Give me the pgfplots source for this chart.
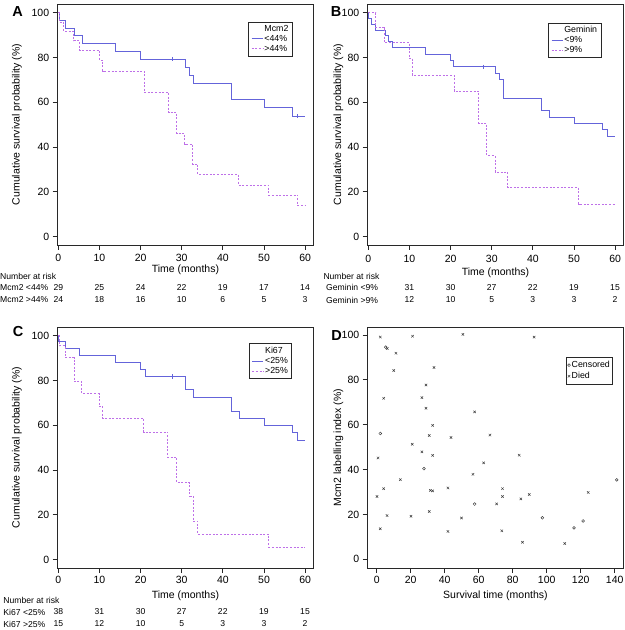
\documentclass[border=0pt]{standalone}
\usepackage{fontspec}
\setmainfont{Liberation Sans}
\usepackage{pgfplots}
\pgfplotsset{compat=1.18}

\definecolor{lowc}{RGB}{100,100,218}
\definecolor{highc}{RGB}{190,112,232}
\definecolor{frame}{RGB}{40,40,40}
\definecolor{ptc}{RGB}{60,60,60}

\newcommand{\lab}{\fontsize{10.5bp}{12bp}\selectfont}
\newcommand{\risk}{\fontsize{8.6bp}{10bp}\selectfont}
\newcommand{\leg}{\fontsize{8.8bp}{10bp}\selectfont}

\pgfplotsset{
  panel/.style={
    scale only axis, width=255.5bp, height=241bp,
    tick align=outside, xtick pos=left, ytick pos=left,
    major tick length=5bp,
    axis line style={frame, line width=0.9bp},
    tick style={frame, line width=0.9bp},
    tick label style={font=\lab},
    label style={font=\lab},
    /pgf/number format/assume math mode=true,
    legend cell align=left,
  },
  km/.style={
    panel,
    xmin=-0.15, xmax=61.95, ymin=-3.7, ymax=103.9,
    xtick={0,10,...,60}, ytick={0,20,...,100},
    ylabel={Cumulative survival probability (\%)},
    legend style={anchor=north east, draw=frame, line width=0.6bp,
      font=\leg, inner xsep=2.5bp, inner ysep=2bp, row sep=-0.3bp,
      nodes={inner sep=1.3bp}},
    legend image code/.code={\draw[#1] (0bp,0bp) -- (11bp,0bp);},
  },
  lo/.style={lowc, line width=0.9bp, const plot},
  hi/.style={highc, line width=0.8bp, const plot, dash pattern=on 2bp off 1.6bp},
  cens/.style={only marks, mark=|, mark size=2.2bp, forget plot},
}

\begin{document}
\begin{tikzpicture}
\path[use as bounding box] (0,0) rectangle (625bp,630bp);

% ---------------- A
\begin{axis}[km, at={(57.7bp,385bp)}, anchor=south west,
  xticklabel style={yshift=-0.5bp},
  xlabel={Time (months)},
  xlabel style={at={(axis description cs:0.5,-0.101)}, anchor=center},
  ylabel style={at={(axis description cs:-0.16,0.5)}, anchor=center},
  legend style={at={(0.919,0.927)}}]
\addlegendimage{empty legend}\addlegendentry{Mcm2}
\addplot[lo] coordinates {(0,100) (0.3,96.55) (1.8,93.1) (3.8,89.66) (5.8,86.2)
  (13.8,82.76) (19.9,79.3) (30.8,75.7) (31.9,72.1) (32.8,68.6) (42,61.3)
  (50.1,57.6) (57,53.9) (60,53.9)};
\addlegendentry{<44\%}
\addplot[hi] coordinates {(0,100) (0.3,95.8) (1.3,91.7) (3.7,87.5) (5.1,83.3)
  (10,78.9) (10.8,74) (20.9,64.4) (26.8,55.3) (28.8,46.1) (30.7,41.4)
  (32.7,32.3) (33.9,27.8) (43.8,23.1) (51.1,18.6) (58.2,13.9) (60,13.9)};
\addlegendentry{>44\%}
\addplot[cens, lowc] coordinates {(27.8,79.3) (58,53.9)};
\end{axis}

% ---------------- B
\begin{axis}[km, at={(367.7bp,385bp)}, anchor=south west,
  xticklabel style={yshift=-1.5bp},
  xlabel={Time (months)},
  xlabel style={at={(axis description cs:0.5,-0.115)}, anchor=center},
  ylabel style={at={(axis description cs:-0.115,0.5)}, anchor=center},
  legend style={at={(0.914,0.922)}}]
\addlegendimage{empty legend}\addlegendentry{Geminin}
\addplot[lo] coordinates {(0,100) (0.1,97.4) (0.7,94.9) (1.8,92.3) (4.1,89.7)
  (5,87.2) (5.9,84.6) (13.8,81.4) (19.9,78.6) (20.8,75.9) (30.8,73.1)
  (31.9,70.2) (32.8,61.9) (42,56.2) (44,53.4) (50.1,50.6) (57,47.8)
  (58,44.9) (60,44.9)};
\addlegendentry{<9\%}
\addplot[hi] coordinates {(0,100) (1.8,93.3) (3.8,86.7) (9.9,79.6) (10.7,72.2)
  (20.8,65) (26.8,50.6) (28.8,36.2) (30.8,28.9) (33.9,21.9) (51.1,14.6)
  (60,14.6)};
\addlegendentry{>9\%}
\addplot[cens, lowc] coordinates {(27.8,75.9)};
\end{axis}

% ---------------- C
\begin{axis}[km, at={(57.7bp,62bp)}, anchor=south west,
  xlabel={Time (months)},
  xlabel style={at={(axis description cs:0.5,-0.116)}, anchor=center},
  ylabel style={at={(axis description cs:-0.16,0.5)}, anchor=center},
  legend style={at={(0.917,0.932)}}]
\addlegendimage{empty legend}\addlegendentry{Ki67}
\addplot[lo] coordinates {(0,100) (0.1,97.4) (1.8,94.4) (5.1,91.3) (13.8,88.2)
  (19.9,85.1) (21.1,81.8) (30.8,75.8) (32.8,72.5) (42,66.4) (44,63.2)
  (50.1,59.9) (57,56.6) (58,53.4) (60,53.4)};
\addlegendentry{<25\%}
\addplot[hi] coordinates {(0,100) (0.2,95.5) (1.6,90.2) (3.8,79.5) (5.7,74.1)
  (9.9,68.5) (10.8,63.0) (20.8,57.0) (26.6,45.7) (28.8,34.3) (31.9,28.4)
  (32.8,17.2) (33.9,11.5) (51.1,5.7) (60,5.7)};
\addlegendentry{>25\%}
\addplot[cens, lowc] coordinates {(27.8,81.8)};
\end{axis}

% ---------------- D
\begin{axis}[panel, at={(367.7bp,62bp)}, anchor=south west,
  xmin=-5.29, xmax=145, ymin=-3.9, ymax=103.6,
  xtick={0,20,...,140}, ytick={0,20,...,100},
  xlabel={Survival time (months)},
  ylabel={Mcm2 labelling index (\%)},
  xlabel style={at={(axis description cs:0.5,-0.116)}, anchor=center},
  ylabel style={at={(axis description cs:-0.115,0.5)}, anchor=center},
  legend style={at={(0.96,0.877)}, anchor=north east, draw=frame,
    line width=0.6bp, font=\leg, inner xsep=1.5bp, inner ysep=3bp,
    row sep=0.5bp, nodes={inner sep=1.3bp}},
  legend image code/.code={\draw[#1] plot coordinates {(0bp,0bp)};},
  ]
\addplot[only marks, mark=o, mark size=1.4bp, ptc, line width=0.5bp]
  coordinates {(2.1,56.1) (5.3,94.6) (27.8,40.4) (57.6,24.6) (97.5,18.5)
  (116.1,14.0) (121.4,17.1) (141.2,35.4)};
\addlegendentry{Censored}
\addplot[only marks, mark=x, mark size=1.7bp, ptc, line width=0.5bp]
  coordinates {(0.2,28.0) (0.8,45.2) (2.1,99.1) (2.1,13.6) (4.1,71.8)
  (4.1,31.5) (6.2,94.0) (6.1,19.5) (10,84.2) (11.3,91.9) (13.9,35.5)
  (20.2,19.2) (20.9,51.3) (21.1,99.5) (26.6,72.1) (26.6,47.9) (29,77.7)
  (29,67.4) (30.9,55.2) (30.9,21.3) (31.6,30.7) (32.9,30.5) (32.9,59.7)
  (32.9,46.3) (33.7,85.5) (41.9,31.8) (41.9,12.4) (43.7,54.3) (49.9,18.4)
  (50.7,100.3) (56.6,37.9) (57.6,65.7) (62.9,43.0) (66.6,55.4) (70.5,24.7)
  (73.6,12.7) (74,31.5) (74,28.0) (83.8,46.4) (84.8,26.9) (85.8,7.6)
  (89.7,28.9) (92.6,99.1) (110.6,7.0) (124.4,29.8)};
\addlegendentry{Died}
\end{axis}

% ---------------- letters and numbers at risk (image coordinates, y down)
\begin{scope}[shift={(0,630bp)}, x=1bp, y=-1bp]
\foreach \l/\x/\y in {A/17.5/12, B/336/12, C/18/332, D/336.5/336}
  \node[font=\fontsize{14.5bp}{16bp}\selectfont\bfseries] at (\x,\y) {\l};

\node[anchor=west, font=\risk, inner sep=0] at (0,276) {Number at risk};
\node[anchor=west, font=\risk, inner sep=0] at (0,287.3) {Mcm2 <44\%};
\node[anchor=west, font=\risk, inner sep=0] at (0,300) {Mcm2 >44\%};
\foreach \n [count=\i from 0] in {29,25,24,22,19,17,14}
  \node[font=\risk] at (58.3+41.12*\i,287.3) {\n};
\foreach \n [count=\i from 0] in {24,18,16,10,6,5,3}
  \node[font=\risk] at (58.3+41.12*\i,300) {\n};

\node[anchor=west, font=\risk, inner sep=0] at (323.3,276) {Number at risk};
\node[anchor=west, font=\risk, inner sep=0] at (326,287.3) {Geminin <9\%};
\node[anchor=west, font=\risk, inner sep=0] at (326,300) {Geminin >9\%};
\foreach \n [count=\i from 1] in {31,30,27,22,19,15}
  \node[font=\risk] at (368.3+41.12*\i,287.3) {\n};
\foreach \n [count=\i from 1] in {12,10,5,3,3,2}
  \node[font=\risk] at (368.3+41.12*\i,300) {\n};

\node[anchor=west, font=\risk, inner sep=0] at (3.3,600.7) {Number at risk};
\node[anchor=west, font=\risk, inner sep=0] at (3.3,612) {Ki67 <25\%};
\node[anchor=west, font=\risk, inner sep=0] at (3.3,624) {Ki67 >25\%};
\foreach \n [count=\i from 0] in {38,31,30,27,22,19,15}
  \node[font=\risk] at (58.3+41.12*\i,612) {\n};
\foreach \n [count=\i from 0] in {15,12,10,5,3,3,2}
  \node[font=\risk] at (58.3+41.12*\i,624) {\n};
\end{scope}
\end{tikzpicture}
\end{document}
